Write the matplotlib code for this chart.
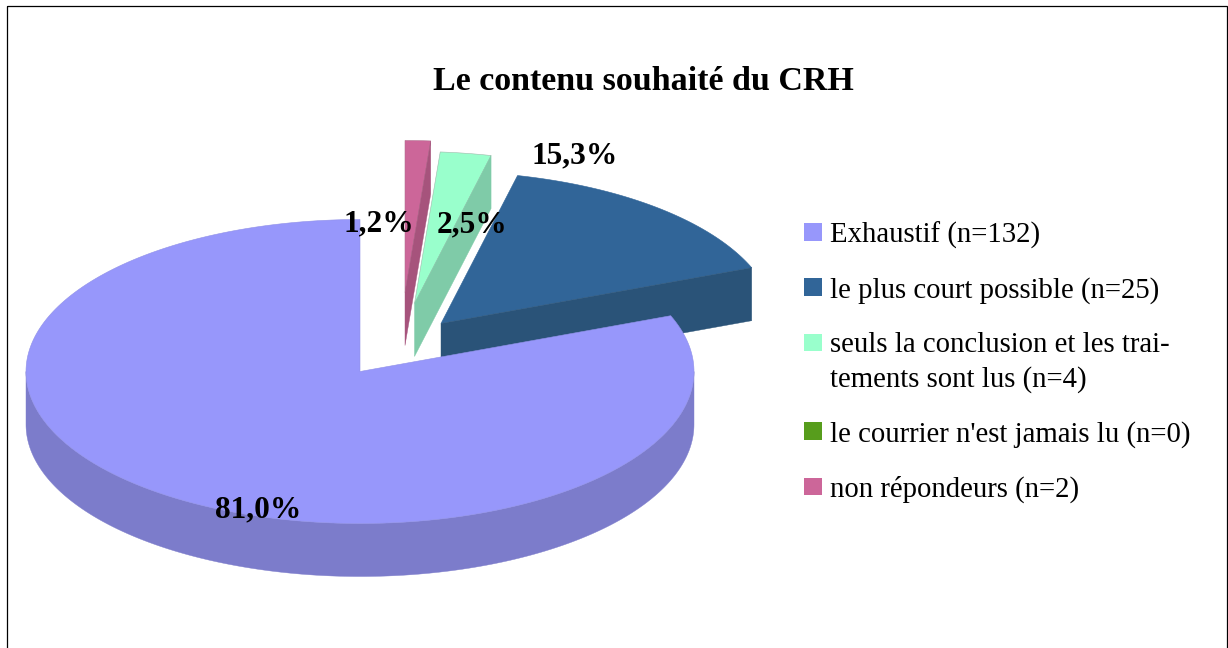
import numpy as np
import matplotlib
matplotlib.use("Agg")
import matplotlib.pyplot as plt
from matplotlib.patches import Polygon, Rectangle

plt.rcParams['font.family'] = ['Liberation Serif', 'DejaVu Serif']

# ---- data ----
title = "Le contenu souhaité du CRH"
legend_labels = ["Exhaustif (n=132)", "le plus court possible (n=25)",
                 "seuls la conclusion et les trai-\ntements sont lus (n=4)",
                 "le courrier n'est jamais lu (n=0)", "non répondeurs (n=2)"]
counts = [132, 25, 4, 0, 2]
percent_labels = ["81,0%", "15,3%", "2,5%", None, "1,2%"]
top_colors = ["#9797FB", "#316598", "#99FFCC", "#579D1C", "#CC6699"]
side_colors = ["#7C7CCB", "#2A5378", "#7FCBA8", "#467D16", "#A6537C"]
edge_colors = ["#9090E8", "#316598", "#A0B8AC", "#579D1C", "#B0708F"]

# ---- layout (pixels) ----
W, H = 1228, 648
CX, CY, RX, RY, DEPTH = 360, 371.5, 334, 152, 53
explode = [(0, 0), (81, -48), (54.5, -68), (0, 0), (45, -79)]
label_xy = [(258, 510), (575, 156), (472, 225), None, (379, 224)]

fig = plt.figure(figsize=(W / 100, H / 100), dpi=100, facecolor="white")
ax = fig.add_axes([0, 0, 1, 1])
ax.set_xlim(0, W)
ax.set_ylim(H, 0)
ax.axis("off")

# frame
ax.add_patch(Rectangle((6.6, 6.3), 1220.4, H + 20, fill=False, ec="#000000", lw=0.9, zorder=1))

# angles, counter-clockwise from 12 o'clock
fractions = np.array(counts, dtype=float) / sum(counts)
starts = 90 + 360 * np.concatenate(([0], np.cumsum(fractions)[:-1]))
ends = starts + 360 * fractions


def arc(t0, t1, cx, cy, n=240):
    t = np.radians(np.linspace(t0, t1, n))
    return np.column_stack((cx + RX * np.cos(t), cy - RY * np.sin(t)))


def draw_slice(i, z):
    if counts[i] == 0:
        return
    cx, cy = CX + explode[i][0], CY + explode[i][1]
    a0, a1 = starts[i], ends[i]
    top = top_colors[i]
    side = side_colors[i]
    # outer wall: only the front (lower) half of the rim is seen
    for k in range(-1, 2):
        lo, hi = max(a0, 180 + 360 * k), min(a1, 360 + 360 * k)
        if hi > lo:
            rim = arc(lo, hi, cx, cy)
            wall = np.vstack((rim, (rim + [0, DEPTH])[::-1]))
            ax.add_patch(Polygon(wall, closed=True, fc=side, ec=side, lw=0.3, zorder=z))
    # top surface
    pts = np.vstack(([[cx, cy]], arc(a0, a1, cx, cy)))
    ax.add_patch(Polygon(pts, closed=True, fc=top, ec=edge_colors[i], lw=0.4, zorder=z + 0.2))
    # cut face on the clockwise edge (faces the viewer for the exploded slices)
    if i != 0:
        rim_pt = arc(a0, a0, cx, cy, 1)[0]
        face = [[cx, cy], rim_pt, rim_pt + [0, DEPTH], [cx, cy + DEPTH]]
        ax.add_patch(Polygon(face, closed=True, fc=side, ec=side, lw=0.3, zorder=z + 0.4))


for z, i in enumerate([4, 3, 2, 1, 0]):
    draw_slice(i, 2 + z)

# title
ax.text(643, 81, title, ha="center", va="center", fontsize=24.5, fontweight="bold", color="black", zorder=20)

# percentage labels
for lab, xy in zip(percent_labels, label_xy):
    if lab is not None:
        ax.text(xy[0], xy[1], lab, ha="center", va="center", fontsize=22.6,
                fontweight="bold", color="black", zorder=20)

# legend
LEG_X, LEG_TEXT_X, SW = 804, 830, 17.5
y = 232
for lab, col in zip(legend_labels, top_colors):
    ax.add_patch(Rectangle((LEG_X, y - SW / 2), SW, SW, fc=col, ec="none", zorder=20))
    lines = lab.split("\n")
    for j, line in enumerate(lines):
        ax.text(LEG_TEXT_X, y + j * 34, line, ha="left", va="center_baseline", fontsize=20.7,
                color="black", zorder=20)
    y += 55.2 + (len(lines) - 1) * 33.5

fig.savefig("out.png", dpi=100, facecolor="white")
